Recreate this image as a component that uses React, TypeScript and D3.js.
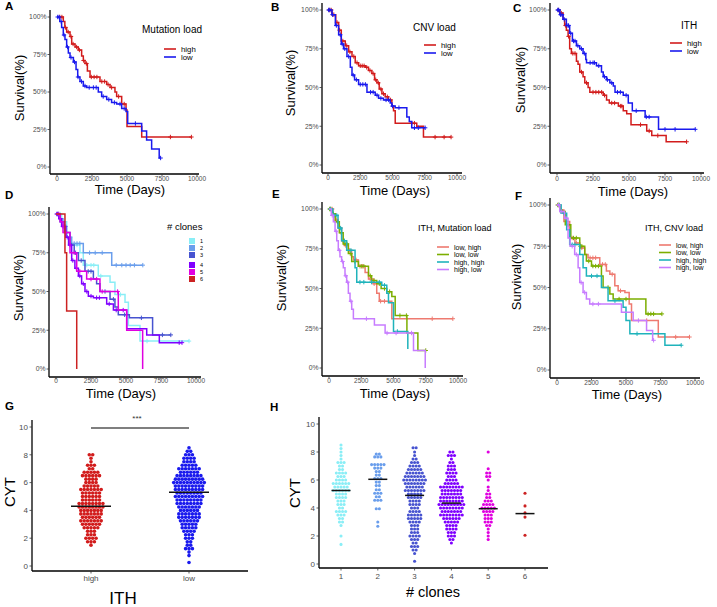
import React from 'react';
import * as d3 from 'd3';

type Step = [number, number];
type Row = [number, number];

const FONT = 'Liberation Sans, Arial, Helvetica, sans-serif';
const timeTicks = [0, 2500, 5000, 7500, 10000];
const survTicks = [0, 25, 50, 75, 100];
const cytTicks = [0, 2, 4, 6, 8, 10];

// ---------- Panel A: Mutation load ----------
const aHighSteps: Step[] = [[450,97],[560,93],[690,90],[930,87],[1050,82],[1290,80],[1520,78],[1760,74],[1880,71],[2000,69],[2170,64],[2360,60],[3070,57],[3550,55],[3790,53],[4140,50],[4260,47],[4620,42],[4930,38],[5000,27],[6050,20]];
const aHighCensor = [200,350,600,800,1000,1150,1400,1600,1900,2100,2450,2650,2850,3200,3400,3650,3900,4400,4800,8100,9600];
const aLowSteps: Step[] = [[200,97],[330,93],[450,88],[570,85],[690,80],[810,76],[930,73],[1170,70],[1360,65],[1480,60],[1640,57],[1880,54],[2120,53],[2950,50],[3190,47],[3550,45],[3900,43],[4260,42],[4620,39],[4930,37],[5050,29],[6050,24],[6400,18],[6760,12],[7300,6]];
const aLowCensor = [50,150,300,500,750,1000,1250,1500,1750,2000,2300,2600,2800,3300,3700,4100,4500,4800,5600,7400];

// ---------- Panel B: CNV load ----------
const bHighSteps: Step[] = [[300,97],[600,92],[825,87],[1030,80],[1340,77],[1600,73],[1860,70],[2110,66],[2370,64],[2890,63],[3140,61],[3400,59],[3610,55],[3790,53],[3970,49],[4180,46],[4430,44],[4690,42],[4950,38],[5080,35],[5210,27],[6880,25],[7400,18]];
const bHighCensor = [100,250,450,700,900,1150,1450,1700,2000,2250,2500,2650,2800,3000,3250,3500,3700,3900,4100,4300,4600,4850,6500,6700,8300,9000,9540];
const bLowSteps: Step[] = [[310,97],[570,90],[825,84],[1030,78],[1210,75],[1470,70],[1730,63],[1860,58],[2060,55],[2370,52],[3020,47],[3660,45],[3920,43],[4300,42],[4820,40],[4950,38],[5210,37],[6110,31],[6300,28],[6490,24]];
const bLowCensor = [50,150,350,650,950,1100,1300,1600,1950,2200,2500,2700,2900,3300,3500,3800,4100,4500,4700,5000,5500,6700,7000,7530];

// ---------- Panel C: ITH ----------
const cHighSteps: Step[] = [[190,98],[420,94],[530,90],[650,87],[770,83],[880,75],[1000,72],[1350,67],[1460,65],[1580,60],[1810,57],[1930,53],[2160,50],[2280,47],[3210,45],[3440,42],[3630,40],[4260,38],[4600,35],[4840,33],[5140,26],[6230,22],[6580,19],[7580,15]];
const cHighCensor = [100,300,600,800,1100,1250,1700,2050,2500,2700,2900,3100,3300,3800,4000,4400,4500,5800,6400,7000,9000];
const cLowSteps: Step[] = [[200,97],[420,94],[650,90],[880,85],[1070,80],[1350,77],[1580,75],[1810,72],[2000,68],[2050,66],[2740,64],[3090,60],[3210,57],[3440,55],[3670,53],[3910,51],[4030,47],[4600,45],[4950,40],[5230,35],[6120,31],[7050,23]];
const cLowCensor = [50,120,250,350,500,700,800,950,1150,1250,1450,1700,1900,2300,2500,2600,2900,3300,3500,3800,4200,4400,4800,5500,6200,6400,7500,8200,9600];

// ---------- Panel D: # clones ----------
const d1Steps: Step[] = [[400,95],[760,85],[900,80],[1710,75],[1950,67],[3020,60],[3860,56],[4210,48],[4930,43],[5170,28],[6000,18]];
const d1Censor = [300,600,1500,2200,2500,2700,3200,4600,6500,9500];
const d2Steps: Step[] = [[300,97],[500,92],[760,85],[1120,81],[1950,75],[3980,67]];
const d2Censor = [150,700,1000,1300,1500,1700,2400,2800,3300,4300,4700,5000,5300,5600,6200];
const d3Steps: Step[] = [[300,95],[600,88],[1000,80],[1300,75],[1600,70],[2070,63],[2670,58],[2900,55],[3140,50],[3860,45],[4210,40],[4450,35],[5240,33],[6900,22]];
const d3Censor = [100,400,700,1100,1400,1800,2300,2500,3500,4100,4900,6100,7600,8200];
const d4Steps: Step[] = [[200,97],[400,92],[700,85],[900,80],[1120,70],[1350,65],[1600,60],[1830,55],[2070,50],[2310,47],[2670,46],[3620,42],[4100,38],[5050,26],[6480,22],[7380,17]];
const d4Censor = [50,150,300,500,600,800,1000,1200,1450,1700,1950,2200,2500,2900,3100,3800,4300,4800,8800,9000];
const d5Steps: Step[] = [[300,95],[500,88],[1000,75],[1480,63],[2190,58],[3140,50],[4450,38],[5050,25],[6190,0]];
const d5Censor = [200,700,1300,1700,2500,2900,3300,4400];
const d6Steps: Step[] = [[640,75],[760,37.5],[1480,0]];
const d6Censor: number[] = [];
const cloneLabels = ['1', '2', '3', '4', '5', '6'];
const cloneColors = ['#8aeef6', '#6a9eec', '#4753d0', '#7f00ff', '#e000e0', '#cc2222'];

// ---------- Panel E: ITH, Mutation load ----------
const eLHSteps: Step[] = [[300,97],[470,93],[700,88],[980,80],[1200,77],[1500,74],[1750,70],[1900,68],[2280,64],[2800,60],[3060,56],[3440,53],[3700,47],[3900,42],[4870,31]];
const eLHCensor = [100,250,600,850,1100,1300,1600,2100,2400,2600,3200,3500,4000,4300,8000,9600];
const eLLSteps: Step[] = [[250,97],[500,92],[800,85],[1100,78],[1500,72],[1760,67],[2280,64],[3060,58],[3300,55],[3700,53],[4040,50],[4480,48],[4870,45],[5130,33],[6040,22],[6890,11]];
const eLLCensor = [50,150,350,650,950,1250,1400,1650,2000,2500,2700,3200,3500,3900,4300,4700,5500,6000,7500];
const eHHSteps: Step[] = [[300,96],[700,88],[980,80],[1370,74],[2020,63],[2150,54],[4090,52],[4480,47],[4610,41],[5000,23],[6110,12]];
const eHHCensor = [100,400,600,900,1200,1700,2400,2700,3300,3900,4300,5300];
const eHLSteps: Step[] = [[180,96],[340,92],[470,86],[600,80],[720,74],[850,70],[980,67],[1110,63],[1240,58],[1370,54],[1500,47],[1630,42],[1760,37],[1890,31],[3520,27],[4350,22],[6550,11],[7460,0]];
const eHLCensor = [250,550,800,1050,1300,1450,1700,2900,4500,5200,6400];

// ---------- Panel F: ITH, CNV load ----------
const fLHSteps: Step[] = [[200,97],[500,90],[920,80],[1300,77],[1650,74],[2010,70],[2250,68],[3100,64],[3580,60],[3830,58],[4190,51],[4430,48],[4920,47],[5230,40],[5400,30],[7340,20]];
const fLHCensor = [100,300,700,1100,1400,1800,2400,2600,2800,3300,3500,4000,4600,6500,8600,9600];
const fLLSteps: Step[] = [[250,96],[600,88],[1000,80],[1650,75],[2010,70],[2130,66],[2500,63],[3220,57],[3340,50],[3830,46],[4070,43],[6440,34]];
const fLLCensor = [50,150,400,800,1200,1400,1700,1800,2300,2600,2800,3000,3700,4500,5000,6600,6800,7000,7600];
const fHHSteps: Step[] = [[300,95],[700,85],[920,76],[1650,70],[1890,62],[2130,57],[3220,50],[3700,42],[4790,38],[5000,30],[5280,22],[7820,15]];
const fHHCensor = [150,500,1100,1300,2500,2900,4200,5800,9000];
const fHLSteps: Step[] = [[200,96],[550,92],[800,80],[950,75],[1280,70],[1530,62],[1650,53],[1890,47],[2130,43],[2370,40],[4670,35],[5520,30],[6490,24],[6930,18]];
const fHLCensor = [100,350,650,1100,1400,1750,2000,2600,3000,5900,7000];
const comboLabels = ['low, high', 'low, low', 'high, high', 'high, low'];
const comboColors = ['#ee7a70', '#7cae00', '#1fb3bb', '#c77cff'];

// ---------- Panel G: CYT by ITH ----------
const ithGroups = ['high', 'low'];
const ithColors = ['#d21c1c', '#1a1aee'];
const ithHighCYT: Row[] = [[8.0,2],[7.75,1],[7.5,1],[7.25,3],[7.0,2],[6.75,5],[6.5,6],[6.25,4],[6.0,4],[5.75,5],[5.5,7],[5.25,6],[5.0,6],[4.75,6],[4.5,8],[4.25,8],[4.0,7],[3.75,7],[3.5,6],[3.25,7],[3.0,6],[2.75,5],[2.5,3],[2.25,3],[2.0,4],[1.75,3],[1.5,1]];
const ithLowCYT: Row[] = [[8.5,1],[8.25,2],[8.0,3],[7.75,4],[7.5,4],[7.25,5],[7.0,7],[6.75,6],[6.5,8],[6.25,9],[6.0,10],[5.75,9],[5.5,9],[5.25,8],[5.0,9],[4.75,8],[4.5,8],[4.25,7],[4.0,6],[3.75,7],[3.5,7],[3.25,6],[3.0,5],[2.75,5],[2.5,4],[2.25,3],[2.0,3],[1.75,2],[1.5,2],[1.25,3],[1.0,1],[0.75,1],[0.25,1]];
const ithMedians = [4.3, 5.3];

// ---------- Panel H: CYT by # clones ----------
const clone1CYT: Row[] = [[8.5,1],[8.25,1],[8.0,1],[7.75,1],[7.5,1],[7.25,3],[7.0,2],[6.75,2],[6.5,4],[6.25,3],[6.0,4],[5.75,6],[5.5,5],[5.25,6],[5.0,4],[4.75,4],[4.5,3],[4.25,3],[4.0,2],[3.75,4],[3.5,3],[3.25,2],[3.0,2],[2.75,1],[2.0,1],[1.4,1]];
const clone2CYT: Row[] = [[7.85,2],[7.65,3],[7.1,5],[6.85,3],[6.6,2],[6.35,2],[6.1,3],[5.85,2],[5.6,2],[5.3,2],[5.05,3],[4.8,2],[4.55,3],[3.95,2],[3.0,1],[2.7,1]];
const clone3CYT: Row[] = [[8.3,2],[8.0,1],[7.75,1],[7.5,2],[7.25,3],[7.0,4],[6.75,5],[6.5,6],[6.25,7],[6.0,8],[5.75,7],[5.5,6],[5.25,7],[5.0,5],[4.75,5],[4.5,4],[4.25,4],[4.0,3],[3.75,4],[3.5,5],[3.25,5],[3.0,4],[2.75,3],[2.5,3],[2.25,3],[2.0,4],[1.75,3],[1.5,2],[1.25,3],[1.0,2],[0.75,1],[0.2,1]];
const clone4CYT: Row[] = [[8.0,2],[7.75,3],[7.5,1],[7.25,2],[7.0,3],[6.75,3],[6.5,4],[6.25,3],[6.0,4],[5.75,5],[5.5,8],[5.25,7],[5.0,7],[4.75,8],[4.5,8],[4.25,9],[4.0,8],[3.75,7],[3.5,8],[3.25,6],[3.0,5],[2.75,4],[2.5,4],[2.25,3],[2.0,3],[1.75,2],[1.5,1]];
const clone5CYT: Row[] = [[8.0,1],[6.8,1],[6.5,2],[6.25,2],[6.0,1],[5.5,1],[5.25,1],[5.0,2],[4.75,2],[4.5,3],[4.25,4],[4.0,5],[3.75,4],[3.5,3],[3.25,3],[3.0,3],[2.75,2],[2.5,1],[2.25,1],[2.0,1],[1.75,1]];
const clone6CYT: Row[] = [[5.05,1],[4.15,1],[3.65,1],[3.35,1],[2.05,1]];
const cloneMedians = [5.25, 6.05, 4.9, 4.35, 3.95, 3.6];

interface Curve { steps: Step[]; end: number; censor: number[]; color: string; }
interface Legend { title: string; tx: number; ty: number; tsize: number; lx: number; ly: number[]; labels: string[]; size: number; }
interface KMCfg {
  letter: string; lx: number; ly: number;
  axisX: number; axisTop: number; axisY: number; axisRight: number;
  t0: number; t10k: number; y0: number; y100: number;
  xTickY: number; ylabX: number; ylabY: number; xlabX: number; xlabY: number;
  curves: Curve[]; legend?: Legend;
}

function KM({ c }: { c: KMCfg }) {
  const x = d3.scaleLinear().domain([0, 10000]).range([c.t0, c.t10k]);
  const y = d3.scaleLinear().domain([0, 100]).range([c.y0, c.y100]);
  const line = d3.line<Step>().x(d => x(d[0])).y(d => y(d[1])).curve(d3.curveStepAfter);
  return (
    <g>
      <text x={c.lx} y={c.ly} fontSize={11.5} fontWeight="bold" fontFamily={FONT}>{c.letter}</text>
      {c.curves.map((cv, i) => {
        const last = cv.steps[cv.steps.length - 1][1];
        const pts: Step[] = [[0, 100], ...cv.steps, [cv.end, last]];
        const survAt = (t: number) => { let s = 100; for (const [tt, ss] of cv.steps) if (tt <= t) s = ss; return s; };
        return (
          <g key={i}>
            <path d={line(pts) || ''} fill="none" stroke={cv.color} strokeWidth={1.5} />
            {cv.censor.map((t, j) => {
              const px = x(t), py = y(survAt(t));
              return <path key={j} d={`M${px - 2.2},${py}H${px + 2.2}M${px},${py - 2.2}V${py + 2.2}`} stroke={cv.color} strokeWidth={1} />;
            })}
          </g>
        );
      })}
      <line x1={c.axisX} x2={c.axisX} y1={c.axisTop} y2={c.axisY} stroke="#000" strokeWidth={1.3} />
      <line x1={c.axisX} x2={c.axisRight} y1={c.axisY} y2={c.axisY} stroke="#000" strokeWidth={1.3} />
      {survTicks.map(v => (
        <g key={v}>
          <line x1={c.axisX - 2.5} x2={c.axisX} y1={y(v)} y2={y(v)} stroke="#333" strokeWidth={0.8} />
          <text x={c.axisX - 3.5} y={y(v) + 2.4} fontSize={6.8} fill="#4d4d4d" textAnchor="end" fontFamily={FONT}>{v + '%'}</text>
        </g>
      ))}
      {timeTicks.map(v => (
        <g key={v}>
          <line x1={x(v)} x2={x(v)} y1={c.axisY} y2={c.axisY + 2.5} stroke="#333" strokeWidth={0.8} />
          <text x={x(v)} y={c.xTickY} fontSize={6.5} fill="#4d4d4d" textAnchor="middle" fontFamily={FONT}>{v}</text>
        </g>
      ))}
      <text transform={`translate(${c.ylabX},${c.ylabY}) rotate(-90)`} fontSize={13} textAnchor="middle" fontFamily={FONT}>Survival(%)</text>
      <text x={c.xlabX} y={c.xlabY} fontSize={13} textAnchor="middle" fontFamily={FONT}>Time (Days)</text>
      {c.legend && (
        <g fontFamily={FONT}>
          <text x={c.legend.tx} y={c.legend.ty} fontSize={c.legend.tsize}>{c.legend.title}</text>
          {c.legend.labels.map((lab, i) => (
            <g key={lab}>
              <line x1={c.legend!.lx} x2={c.legend!.lx + 12} y1={c.legend!.ly[i]} y2={c.legend!.ly[i]} stroke={c.curves[i].color} strokeWidth={1.6} />
              <text x={c.legend!.lx + 17} y={c.legend!.ly[i] + 2.6} fontSize={c.legend!.size}>{lab}</text>
            </g>
          ))}
        </g>
      )}
    </g>
  );
}

const mk = (steps: Step[], censor: number[], color: string): Curve => ({ steps, end: censor.length ? Math.max(censor[censor.length - 1], steps[steps.length - 1][0]) : steps[steps.length - 1][0], censor, color });

const panelA: KMCfg = {
  letter: 'A', lx: 5, ly: 10, axisX: 50, axisTop: 10, axisY: 174, axisRight: 199,
  t0: 57, t10k: 197, y0: 167, y100: 17, xTickY: 181, ylabX: 24, ylabY: 88, xlabX: 130, xlabY: 194,
  curves: [mk(aHighSteps, aHighCensor, '#d21c1c'), mk(aLowSteps, aLowCensor, '#1a1aee')],
  legend: { title: 'Mutation load', tx: 142, ty: 33, tsize: 10, lx: 164, ly: [49, 57], labels: ['high', 'low'], size: 7.8 },
};
const panelB: KMCfg = {
  letter: 'B', lx: 271, ly: 11, axisX: 322, axisTop: 3, axisY: 173, axisRight: 462,
  t0: 328, t10k: 457, y0: 165, y100: 10, xTickY: 180, ylabX: 295, ylabY: 83, xlabX: 395, xlabY: 195,
  curves: [mk(bHighSteps, bHighCensor, '#d21c1c'), mk(bLowSteps, bLowCensor, '#1a1aee')],
  legend: { title: 'CNV load', tx: 413, ty: 31, tsize: 10, lx: 424, ly: [45, 53], labels: ['high', 'low'], size: 7.8 },
};
const panelC: KMCfg = {
  letter: 'C', lx: 513, ly: 12, axisX: 550, axisTop: 3, axisY: 173, axisRight: 704,
  t0: 557, t10k: 701, y0: 165, y100: 10, xTickY: 181, ylabX: 525, ylabY: 80, xlabX: 633, xlabY: 196,
  curves: [mk(cHighSteps, cHighCensor, '#d21c1c'), mk(cLowSteps, cLowCensor, '#1a1aee')],
  legend: { title: 'ITH', tx: 681, ty: 29, tsize: 10, lx: 670, ly: [43, 51], labels: ['high', 'low'], size: 7.8 },
};
const dCurves = [d1Steps, d2Steps, d3Steps, d4Steps, d5Steps, d6Steps].map((s, i) => mk(s, [d1Censor, d2Censor, d3Censor, d4Censor, d5Censor, d6Censor][i], cloneColors[i]));
const panelD: KMCfg = {
  letter: 'D', lx: 5, ly: 199, axisX: 49, axisTop: 207, axisY: 377, axisRight: 201,
  t0: 56, t10k: 196, y0: 369, y100: 214, xTickY: 383, ylabX: 23, ylabY: 288, xlabX: 121, xlabY: 398,
  curves: dCurves,
};
const panelE: KMCfg = {
  letter: 'E', lx: 272, ly: 198, axisX: 322, axisTop: 202, axisY: 376, axisRight: 463,
  t0: 329, t10k: 458, y0: 368, y100: 209, xTickY: 383, ylabX: 286, ylabY: 278, xlabX: 395, xlabY: 398,
  curves: [mk(eLHSteps, eLHCensor, comboColors[0]), mk(eLLSteps, eLLCensor, comboColors[1]), mk(eHHSteps, eHHCensor, comboColors[2]), mk(eHLSteps, eHLCensor, comboColors[3])],
  legend: { title: 'ITH, Mutation load', tx: 418, ty: 231, tsize: 9, lx: 437, ly: [247, 254.5, 262, 269.5], labels: comboLabels, size: 7 },
};
const panelF: KMCfg = {
  letter: 'F', lx: 515, ly: 200, axisX: 550, axisTop: 198, axisY: 378, axisRight: 700,
  t0: 557, t10k: 695, y0: 370, y100: 205, xTickY: 385, ylabX: 521, ylabY: 277, xlabX: 627, xlabY: 399,
  curves: [mk(fLHSteps, fLHCensor, comboColors[0]), mk(fLLSteps, fLLCensor, comboColors[1]), mk(fHHSteps, fHHCensor, comboColors[2]), mk(fHLSteps, fHLCensor, comboColors[3])],
  legend: { title: 'ITH, CNV load', tx: 645, ty: 231, tsize: 9, lx: 659, ly: [245, 252.5, 260, 267.5], labels: comboLabels, size: 7 },
};

function DLegend() {
  const tops = [238, 245, 252, 262, 269, 276];
  return (
    <g fontFamily={FONT}>
      <text x={167} y={230} fontSize={9.5}>{'# clones'}</text>
      {cloneLabels.map((l, i) => (
        <g key={l}>
          <rect x={189} y={tops[i]} width={6} height={6} fill={cloneColors[i]} />
          <text x={200} y={tops[i] + 5} fontSize={5.5}>{l}</text>
        </g>
      ))}
    </g>
  );
}

interface SwarmCfg {
  letter: string; lx: number; ly: number;
  axisX: number; axisTop: number; axisY: number; axisRight: number;
  y0: number; y10: number; cats: string[]; catStart: number; catEnd: number;
  groups: Row[][]; colors: string[]; medians: number[]; medHalf: number;
  r: number; dx: number; xlab: string; xlabSize: number; xlabX: number; xlabY: number;
  ylabX: number; ylabY: number; tickY: number;
}

function Swarm({ c }: { c: SwarmCfg }) {
  const y = d3.scaleLinear().domain([0, 10]).range([c.y0, c.y10]);
  const x = d3.scalePoint<string>().domain(c.cats).range([c.catStart, c.catEnd]);
  return (
    <g fontFamily={FONT}>
      <text x={c.lx} y={c.ly} fontSize={11.5} fontWeight="bold">{c.letter}</text>
      {c.groups.map((rows, gi) => {
        const cx = x(c.cats[gi])!;
        return (
          <g key={gi} fill={c.colors[gi]}>
            {rows.flatMap(([v, n], ri) =>
              d3.range(n).map(k => (
                <circle key={ri + '-' + k} cx={cx + (k - (n - 1) / 2) * c.dx} cy={y(v)} r={c.r} />
              ))
            )}
            <line x1={cx - c.medHalf} x2={cx + c.medHalf} y1={y(c.medians[gi])} y2={y(c.medians[gi])} stroke="#111" strokeWidth={1.5} />
          </g>
        );
      })}
      <line x1={c.axisX} x2={c.axisX} y1={c.axisTop} y2={c.axisY} stroke="#000" strokeWidth={1.3} />
      <line x1={c.axisX} x2={c.axisRight} y1={c.axisY} y2={c.axisY} stroke="#000" strokeWidth={1.3} />
      {cytTicks.map(v => (
        <g key={v}>
          <line x1={c.axisX - 2.5} x2={c.axisX} y1={y(v)} y2={y(v)} stroke="#333" strokeWidth={0.8} />
          <text x={c.axisX - 4} y={y(v) + 2.8} fontSize={8} fill="#4d4d4d" textAnchor="end">{v}</text>
        </g>
      ))}
      {c.cats.map(cat => (
        <g key={cat}>
          <line x1={x(cat)} x2={x(cat)} y1={c.axisY} y2={c.axisY + 2.5} stroke="#333" strokeWidth={0.8} />
          <text x={x(cat)} y={c.tickY} fontSize={8} fill="#4d4d4d" textAnchor="middle">{cat}</text>
        </g>
      ))}
      <text transform={`translate(${c.ylabX},${c.ylabY}) rotate(-90)`} fontSize={15} textAnchor="middle">CYT</text>
      <text x={c.xlabX} y={c.xlabY} fontSize={c.xlabSize} textAnchor="middle">{c.xlab}</text>
    </g>
  );
}

const panelG: SwarmCfg = {
  letter: 'G', lx: 5, ly: 410, axisX: 32, axisTop: 420, axisY: 571, axisRight: 248,
  y0: 566, y10: 427, cats: ithGroups, catStart: 91, catEnd: 189,
  groups: [ithHighCYT, ithLowCYT], colors: ithColors, medians: ithMedians, medHalf: 20,
  r: 1.8, dx: 3.4, xlab: 'ITH', xlabSize: 17, xlabX: 123, xlabY: 604, ylabX: 15, ylabY: 492, tickY: 581,
};
const panelH: SwarmCfg = {
  letter: 'H', lx: 270, ly: 411, axisX: 319, axisTop: 417, axisY: 568, axisRight: 548,
  y0: 564, y10: 424, cats: cloneLabels, catStart: 341, catEnd: 525,
  groups: [clone1CYT, clone2CYT, clone3CYT, clone4CYT, clone5CYT, clone6CYT], colors: cloneColors, medians: cloneMedians, medHalf: 9.5,
  r: 1.55, dx: 3.1, xlab: '# clones', xlabSize: 14.5, xlabX: 433, xlabY: 597, ylabX: 300, ylabY: 493, tickY: 579,
};

export default function App() {
  const gx = d3.scalePoint<string>().domain(ithGroups).range([91, 189]);
  return (
    <svg width={717} height={607} style={{ position: 'absolute', left: 0, top: 0, background: '#fff' }} fontFamily={FONT}>
      <rect width={717} height={607} fill="#fff" />
      <KM c={panelA} />
      <KM c={panelB} />
      <KM c={panelC} />
      <KM c={panelD} />
      <DLegend />
      <KM c={panelE} />
      <KM c={panelF} />
      <Swarm c={panelG} />
      <line x1={gx('high')} x2={gx('low')} y1={428} y2={428} stroke="#555" strokeWidth={1.5} />
      <text x={137} y={421} fontSize={8} textAnchor="middle" fill="#333">***</text>
      <Swarm c={panelH} />
    </svg>
  );
}
